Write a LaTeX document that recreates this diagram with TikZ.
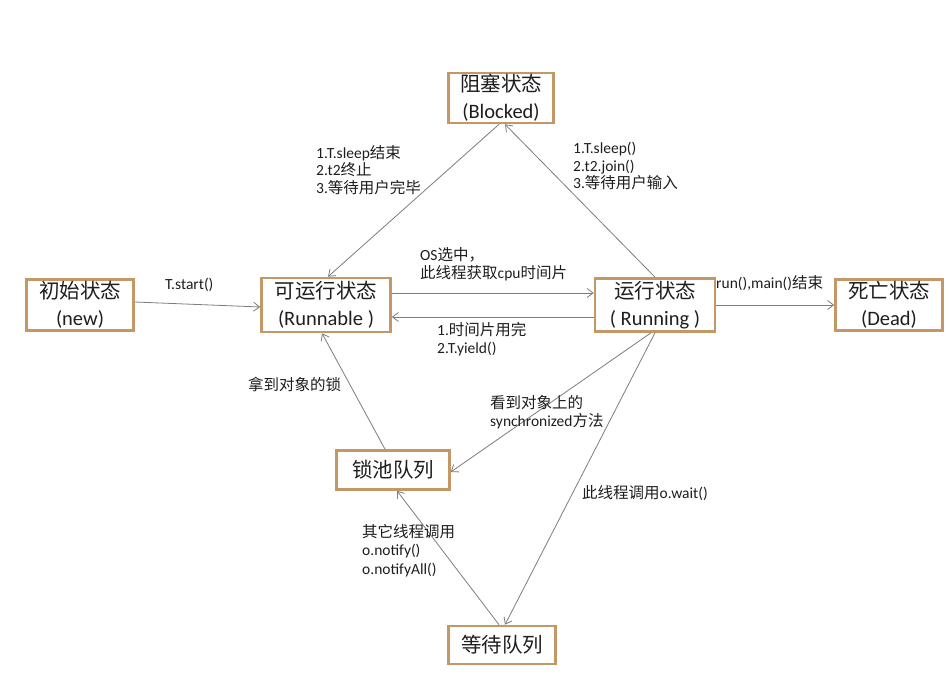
\documentclass[tikz,border=0pt]{standalone}
\usepackage{fontspec}
\setmainfont{Carlito}
\newfontfamily\cjk{Noto Sans CJK SC}
\newcommand{\zh}[1]{{\cjk #1}}
\usetikzlibrary{arrows.meta}
\definecolor{boxc}{RGB}{196,152,102}
\definecolor{linec}{RGB}{125,125,125}
\definecolor{txtc}{RGB}{30,30,30}
\tikzset{
  state/.style={draw=boxc, line width=2.6pt, fill=white, align=center, inner sep=0pt,
    font=\fontsize{20.5}{27}\selectfont, text=txtc},
  conn/.style={draw=linec, line width=0.8pt, -{Straight Barb[length=6pt,width=9pt,line width=0.8pt]}},
  lab/.style={anchor=north west, align=left, inner sep=0pt, text=txtc,
    font=\fontsize{15.5}{18.5}\selectfont},
}
\begin{document}
\begin{tikzpicture}[x=1pt,y=-1pt]
\useasboundingbox (0,0) rectangle (949,700);
\fill[white] (0,0) rectangle (949,700);

\node[state, minimum width=105pt, minimum height=50pt] (blocked) at (501,98) {\zh{阻塞状态}\\(Blocked)};
\node[state, minimum width=107pt, minimum height=51pt] (new) at (80,305) {\zh{初始状态}\\(new)};
\node[state, minimum width=129pt, minimum height=54pt] (runnable) at (326,305) {\zh{可运行状态}\\(Runnable )};
\node[state, minimum width=120pt, minimum height=53pt] (running) at (655,305) {\zh{运行状态}\\( Running )};
\node[state, minimum width=107pt, minimum height=51pt] (dead) at (889,305) {\zh{死亡状态}\\(Dead)};
\node[state, minimum width=113pt, minimum height=39pt] (lock) at (393,470) {\zh{锁池队列}};
\node[state, minimum width=107pt, minimum height=38pt] (wait) at (502,645) {\zh{等待队列}};

% connectors
\draw[conn] ([yshift=3pt]new.east) -- ([yshift=-2pt]runnable.west);
\draw[conn] ([yshift=12pt]runnable.east) -- ([yshift=12pt]running.west);
\draw[conn] ([yshift=-12pt]running.west) -- ([yshift=-12pt]runnable.east);
\draw[conn] (running.east) -- (dead.west);
\draw[conn] ([xshift=-2pt]blocked.south) -- ([xshift=2pt]runnable.north);
\draw[conn] (running.north) -- ([xshift=4pt]blocked.south);
\draw[conn] ([xshift=-8pt]lock.north) -- ([xshift=-4pt]runnable.south);
\draw[conn] ([xshift=-4pt]running.south) -- ([yshift=-2pt]lock.east);
\draw[conn] (running.south) -- ([xshift=3pt]wait.north);
\draw[conn] ([xshift=-3pt]wait.north) -- ([xshift=4pt]lock.south);

% labels
\node[lab] (l1) at (165,278) {T.start()};
\node[lab] (l2) at (420,247) {OS\zh{选中，}\\\zh{此线程获取}cpu\zh{时间片}};
\node[lab] (l3) at (437,322) {1.\zh{时间片用完}\\2.T.yield()};
\node[lab] (l4) at (716,275) {run(),main()\zh{结束}};
\node[lab, font=\fontsize{15.5}{17.5}\selectfont] (l5) at (316,145) {1.T.sleep\zh{结束}\\2.t2\zh{终止}\\3.\zh{等待用户完毕}};
\node[lab, font=\fontsize{15.5}{17.5}\selectfont] (l6) at (573,142) {1.T.sleep()\\2.t2.join()\\3.\zh{等待用户输入}};
\node[lab] (l7) at (248,377) {\zh{拿到对象的锁}};
\node[lab] (l8) at (490,395) {\zh{看到对象上的}\\synchronized\zh{方法}};
\node[lab] (l9) at (582,485) {\zh{此线程调用}o.wait()};
\node[lab] (l10) at (362,524) {\zh{其它线程调用}\\o.notify()\\o.notifyAll()};
\end{tikzpicture}
\end{document}
